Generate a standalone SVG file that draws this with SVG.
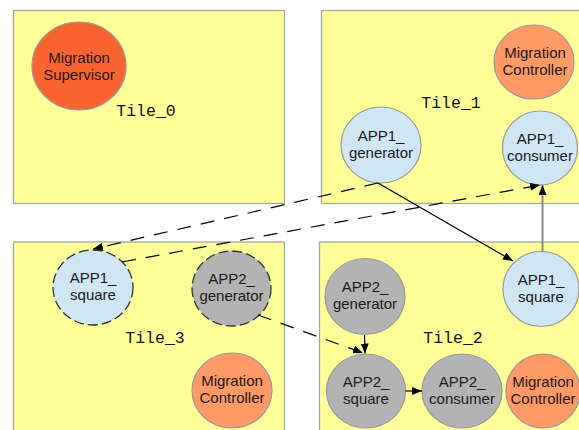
<svg xmlns="http://www.w3.org/2000/svg" width="579" height="430" viewBox="0 0 579 430">
<defs>
<style>
.tile{fill:#ffff99;stroke:#a6a6a6;stroke-width:1.3}
.tl{font-family:"Liberation Mono",monospace;font-size:16.5px;fill:#111;text-anchor:middle}
.nt{font-family:"Liberation Sans",Arial,sans-serif;font-size:15px;fill:#1a1a1a;text-anchor:middle}
.blue{fill:#cfe7f5;stroke:#999;stroke-width:1.2}
.grey{fill:#b3b3b3;stroke:#999;stroke-width:1.2}
.ctrl{fill:#ff9966;stroke:#999;stroke-width:1.2}
.sup{fill:#fb6331;stroke:#999;stroke-width:1.2}
.dnode{stroke:#333;stroke-width:1.3;stroke-dasharray:10 4}
.c{fill:none;stroke:#000;stroke-width:1.2}
.dash{stroke-dasharray:14 10}
.g{stroke:#888;stroke-width:2}
</style>
<marker id="ah" viewBox="0 0 10 8" refX="10" refY="4" markerWidth="10" markerHeight="8" markerUnits="userSpaceOnUse" orient="auto">
<path d="M0,0 L10,4 L0,8 z" fill="#000"/>
</marker>
</defs>
<g id="tile0"><rect class="tile" x="13.5" y="10.5" width="271" height="193"/><text class="tl" x="146" y="116">Tile_0</text></g>
<g id="tile1"><rect class="tile" x="321.5" y="10.5" width="270" height="193"/><text class="tl" x="451" y="108">Tile_1</text></g>
<g id="tile3"><rect class="tile" x="13.5" y="242" width="271" height="200"/><text class="tl" x="155" y="343">Tile_3</text></g>
<g id="tile2"><rect class="tile" x="319.5" y="242" width="272" height="200"/><text class="tl" x="453" y="343">Tile_2</text></g>

<g id="migration_supervisor"><ellipse class="sup" cx="79" cy="66" rx="47" ry="44"/><text class="nt" x="79" y="63">Migration</text><text class="nt" x="79" y="80">Supervisor</text></g>
<g id="migration_controller_1"><ellipse class="ctrl" cx="534" cy="62" rx="40" ry="37"/><text class="nt" x="535" y="58">Migration</text><text class="nt" x="535" y="75">Controller</text></g>
<g id="app1_generator"><ellipse class="blue" cx="381" cy="145" rx="40" ry="38"/><text class="nt" x="381" y="141">APP1_</text><text class="nt" x="381" y="158">generator</text></g>
<g id="app1_consumer"><ellipse class="blue" cx="540" cy="148" rx="37.5" ry="37"/><text class="nt" x="540" y="144">APP1_</text><text class="nt" x="540" y="161">consumer</text></g>

<g id="app1_square_3"><ellipse class="blue dnode" cx="93" cy="287.5" rx="40" ry="37.5"/><text class="nt" x="93" y="283">APP1_</text><text class="nt" x="93" y="300">square</text></g>
<g id="app2_generator_3"><ellipse class="grey dnode" cx="231.5" cy="288.5" rx="39.5" ry="37.5"/><text class="nt" x="231.5" y="284">APP2_</text><text class="nt" x="231.5" y="301">generator</text></g>
<g id="migration_controller_3"><ellipse class="ctrl" cx="232" cy="390.5" rx="40" ry="37.5"/><text class="nt" x="232" y="386">Migration</text><text class="nt" x="232" y="403">Controller</text></g>

<g id="app2_generator_2"><ellipse class="grey" cx="365" cy="296.5" rx="40" ry="38"/><text class="nt" x="365" y="292">APP2_</text><text class="nt" x="365" y="309">generator</text></g>
<g id="app1_square_2"><ellipse class="blue" cx="541" cy="289" rx="38" ry="37.5"/><text class="nt" x="541" y="285">APP1_</text><text class="nt" x="541" y="302">square</text></g>
<g id="app2_square"><ellipse class="grey" cx="366" cy="391" rx="39.5" ry="37"/><text class="nt" x="366" y="387">APP2_</text><text class="nt" x="366" y="404">square</text></g>
<g id="app2_consumer"><ellipse class="grey" cx="462" cy="391" rx="40" ry="37"/><text class="nt" x="462" y="387">APP2_</text><text class="nt" x="462" y="404">consumer</text></g>
<g id="migration_controller_2"><ellipse class="ctrl" cx="543" cy="391" rx="37" ry="37"/><text class="nt" x="543" y="387">Migration</text><text class="nt" x="543" y="404">Controller</text></g>

<g id="connectors">
<line class="c" x1="378" y1="183" x2="513" y2="261" marker-end="url(#ah)"/>
<line class="c g" x1="542.5" y1="252" x2="542.5" y2="185" marker-end="url(#ah)"/>
<line class="c dash" x1="378" y1="183" x2="93" y2="249" marker-end="url(#ah)"/>
<line class="c dash" x1="122" y1="262" x2="540" y2="185" marker-end="url(#ah)"/>
<line class="c dash" x1="258" y1="315" x2="363" y2="353" marker-end="url(#ah)"/>
<line class="c" x1="364.5" y1="335" x2="365" y2="353.5" marker-end="url(#ah)"/>
<line class="c" x1="405.5" y1="391" x2="422" y2="391" marker-end="url(#ah)"/>
</g>
</svg>
